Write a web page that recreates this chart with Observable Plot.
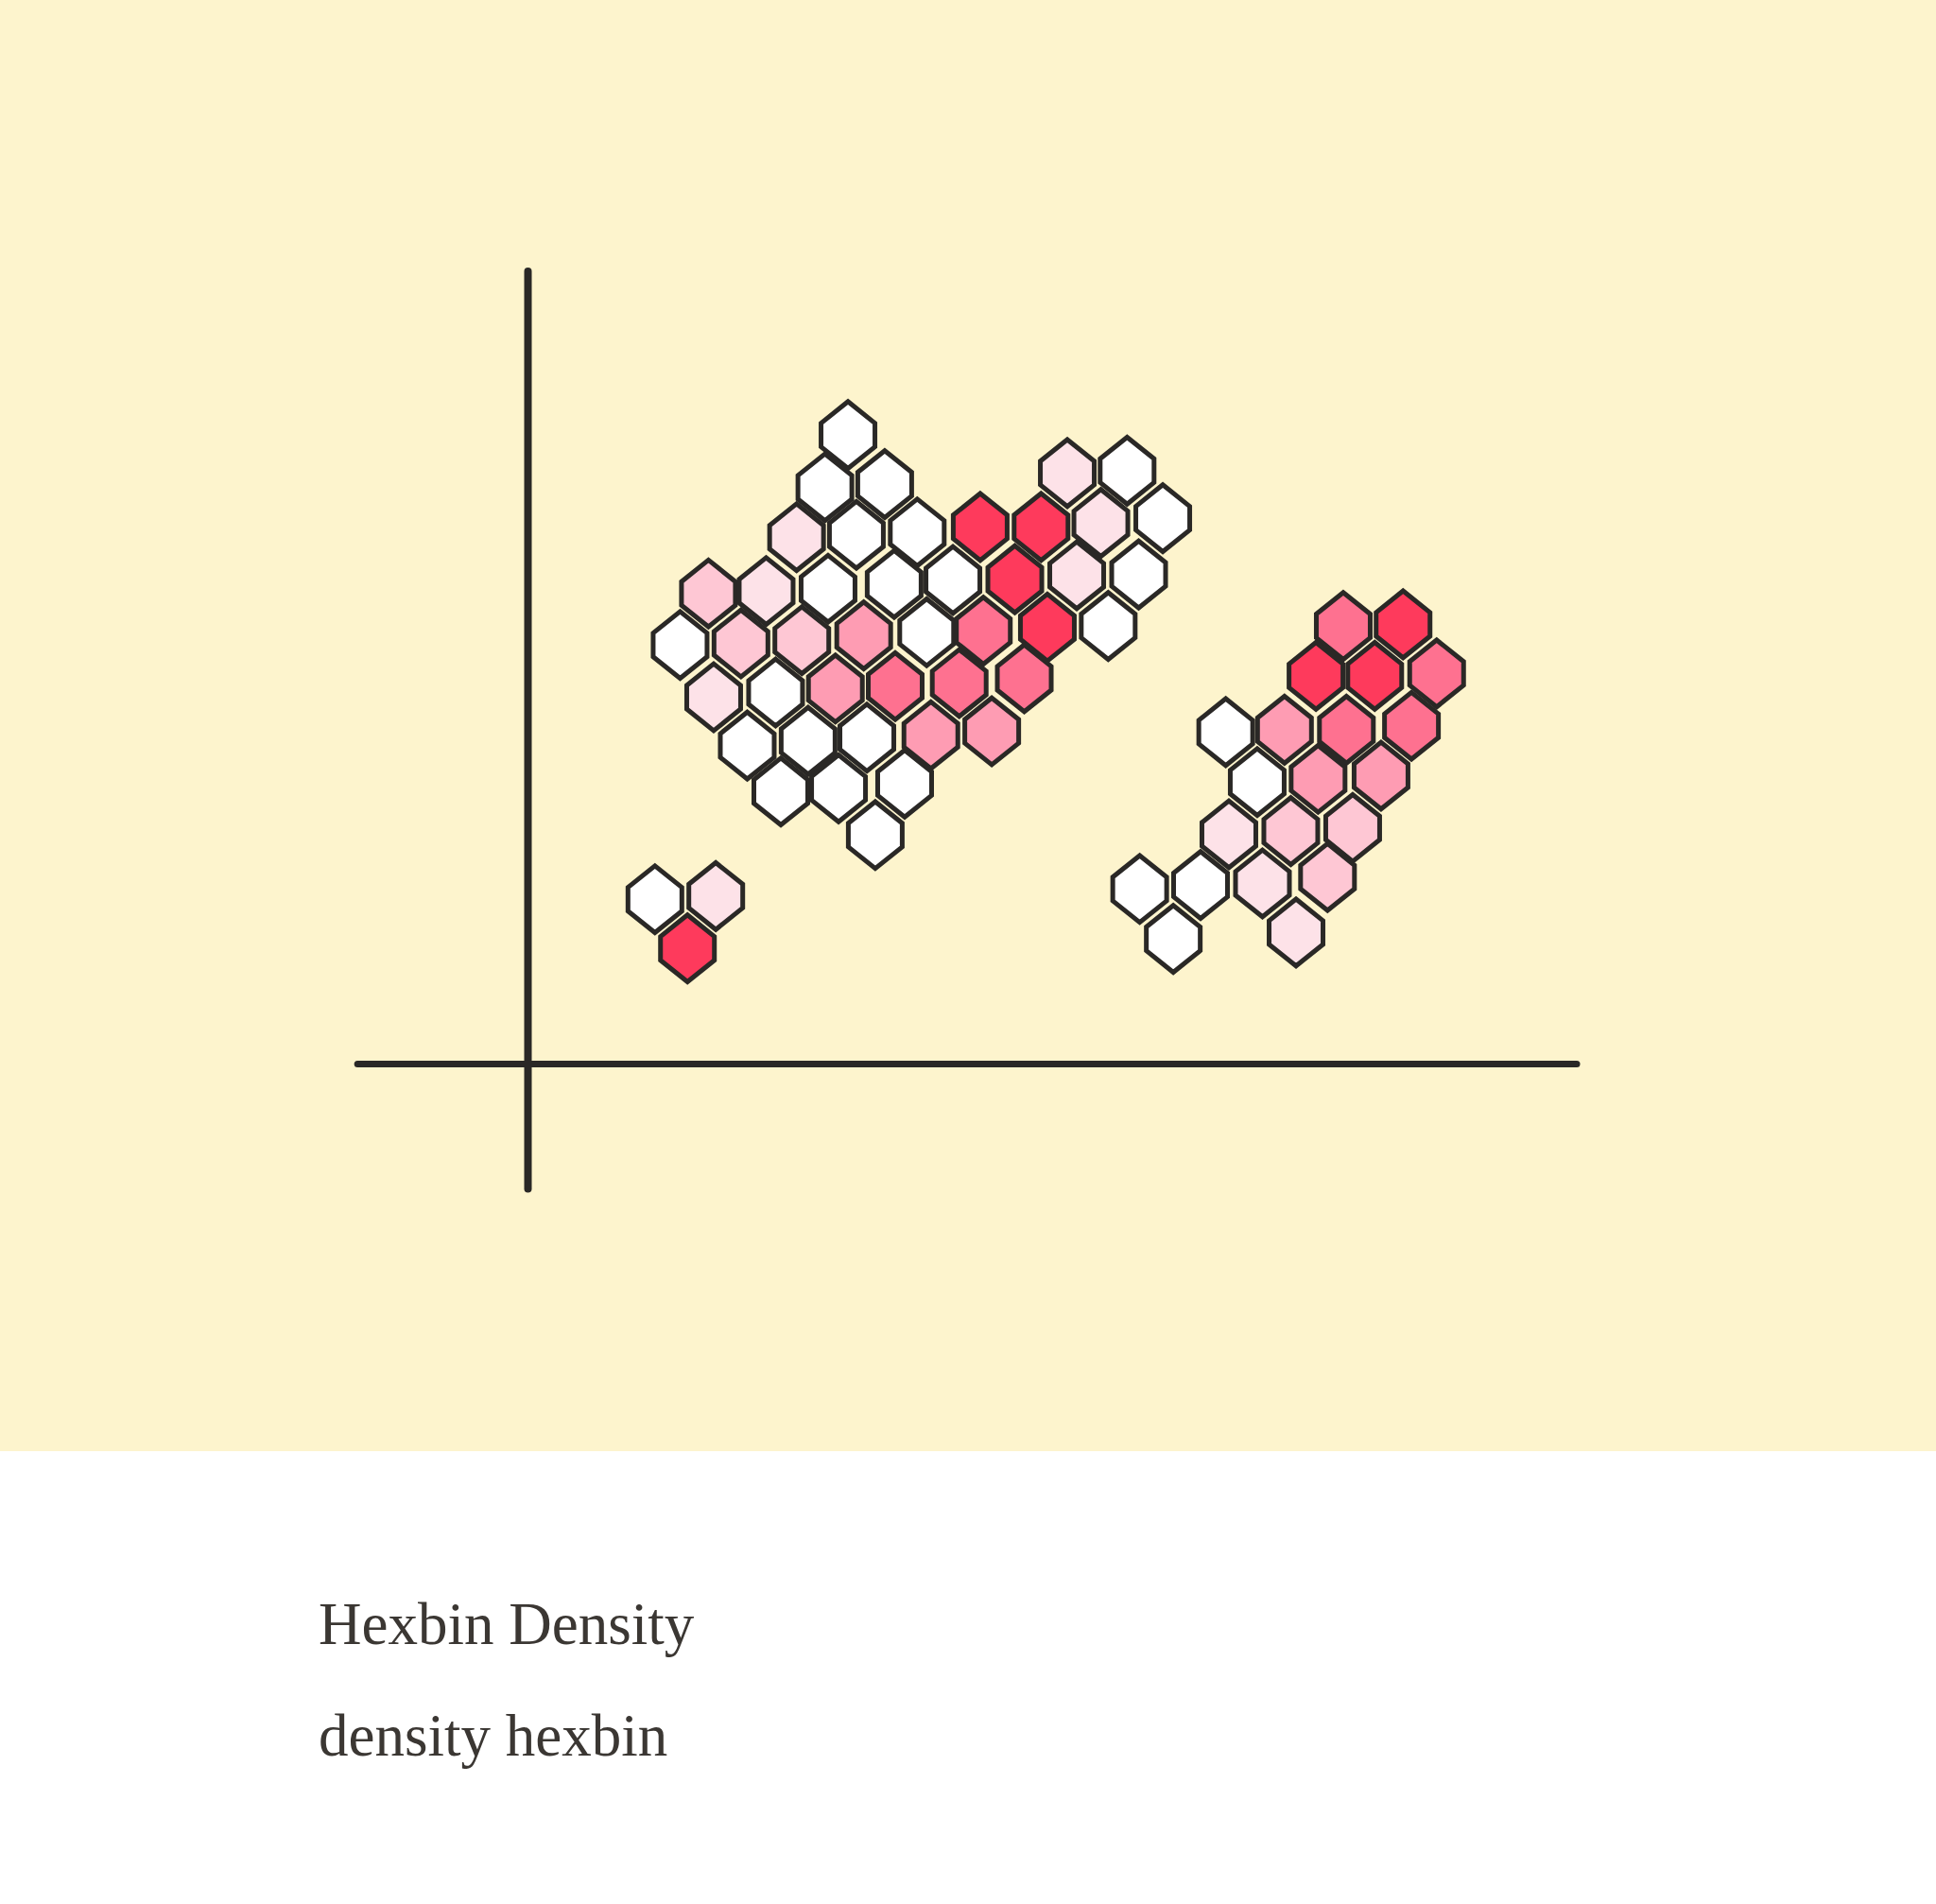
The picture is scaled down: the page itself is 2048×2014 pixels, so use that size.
<!DOCTYPE html>
<html>
<head>
<meta charset="utf-8">
<script src="https://cdn.jsdelivr.net/npm/d3@7"></script>
<script src="https://cdn.jsdelivr.net/npm/@observablehq/plot@0.6"></script>
<style>
  body { margin: 0; background: #ffffff; }
  #chart svg { display: block; }
  .titulo, .subtitulo {
    position: absolute;
    left: 337px;
    font-family: "Liberation Serif", serif;
    font-size: 63px;
    line-height: 63px;
    color: #3b3733;
    margin: 0;
  }
  .titulo { top: 1687px; }
  .subtitulo { top: 1805px; }
</style>
</head>
<body>
<div id="chart"></div>
<div class="titulo">Hexbin Density</div>
<div class="subtitulo">density hexbin</div>
<script>
// Centros de cada hexagono y su conteo
const hexX = [
  30.5,
  28.3, 34.0, 51.4, 57.1,
  25.6, 31.3, 37.1, 43.1, 48.9, 54.6, 60.5,
  17.2, 22.7, 28.6, 34.9, 40.5, 46.4, 52.3, 58.2,
  14.5, 20.3, 26.1, 32.0, 38.0, 43.4, 49.5, 55.3,
  17.7, 23.6, 29.3, 35.0, 41.1, 47.3,
  20.9, 26.7, 32.3, 38.4, 44.2,
  24.1, 29.6, 35.9,
  33.1,
  // grupo de la derecha
  77.7, 83.4,
  75.1, 80.7, 86.6,
  66.5, 72.1, 78.0, 84.2,
  69.5, 75.3, 81.3,
  66.8, 72.7, 78.6,
  58.3, 64.1, 70.0, 76.2,
  61.5, 73.2,
  // grupo chico abajo a la izquierda
  12.1, 17.9, 15.2
]
const hexY = [
  79.4,
  72.8, 73.2, 74.6, 74.9,
  66.5, 66.8, 67.1, 67.8, 67.8, 68.3, 68.9,
  59.4, 59.7, 60.0, 60.6, 61.1, 61.2, 61.7, 61.8,
  52.9, 53.1, 53.5, 54.1, 54.5, 54.7, 55.1, 55.3,
  46.3, 46.9, 47.4, 47.7, 48.1, 48.7,
  40.2, 40.8, 41.2, 41.5, 42.0,
  34.4, 34.8, 35.4,
  28.9,
  55.3, 55.5,
  49.0, 49.0, 49.3,
  41.9, 42.2, 42.2, 42.7,
  35.6, 36.0, 36.4,
  29.0, 29.4, 29.8,
  22.1, 22.6, 22.8, 23.6,
  15.8, 16.6,
  20.8, 21.2, 14.6
]
const hexCount = [
  1,
  1, 1, 2, 1,
  2, 1, 1, 6, 6, 2, 1,
  3, 2, 1, 1, 1, 6, 2, 1,
  1, 3, 3, 4, 1, 5, 6, 1,
  2, 1, 4, 5, 5, 5,
  1, 1, 1, 4, 4,
  1, 1, 1,
  1,
  5, 6,
  6, 6, 5,
  1, 4, 5, 5,
  1, 4, 4,
  2, 3, 3,
  1, 1, 2, 3,
  1, 2,
  1, 2, 6
]
const niveles = [1, 2, 3, 4, 5, 6]

// Extension de los ejes (cruzan en 0,0 y se pasan un poco)
const ejeXDesde = -16.2
const ejeYDesde = -15.8
const ejeHasta = 100

const celdas = hexX.map((x, i) => ({x, y: hexY[i], count: hexCount[i]}))

// Hexagono un poco mas alto que el regular, como en el dibujo
const hexAlto = {
  draw(ctx, size) {
    const r = Math.sqrt(size / Math.PI)
    const ry = r * 1.24, hy = r * 0.44
    ctx.moveTo(0, -ry)
    ctx.lineTo(r, -hy)
    ctx.lineTo(r, hy)
    ctx.lineTo(0, ry)
    ctx.lineTo(-r, hy)
    ctx.lineTo(-r, -hy)
    ctx.closePath()
  }
}

let chart = Plot.plot({
  width: 2048,
  height: 1535,
  marginTop: 0, marginRight: 0, marginBottom: 0, marginLeft: 0,
  style: {background: "#fdf4cd"},
  x: {domain: [0, 100], range: [558, 1668], axis: null},
  y: {domain: [0, 100], range: [1125, 287], axis: null},
  color: {
    type: "ordinal",
    domain: niveles,
    range: ["#ffffff", "#fde2e8", "#fec7d4", "#fe9cb3", "#fe7190", "#fe3a5c"]
  },
  marks: [
    Plot.ruleY([0], {x1: ejeXDesde, x2: ejeHasta, stroke: "#2a2826", strokeWidth: 7, strokeLinecap: "round"}),
    Plot.ruleX([0], {y1: ejeYDesde, y2: ejeHasta, stroke: "#2a2826", strokeWidth: 8, strokeLinecap: "round"}),
    Plot.dot(celdas, {
      x: "x", y: "y", fill: "count",
      r: 28.5, symbol: hexAlto,
      stroke: "#2a2826", strokeWidth: 5, strokeLinejoin: "miter"
    })
  ]
})

d3.select('#chart').append(() => chart)
</script>
</body>
</html>
